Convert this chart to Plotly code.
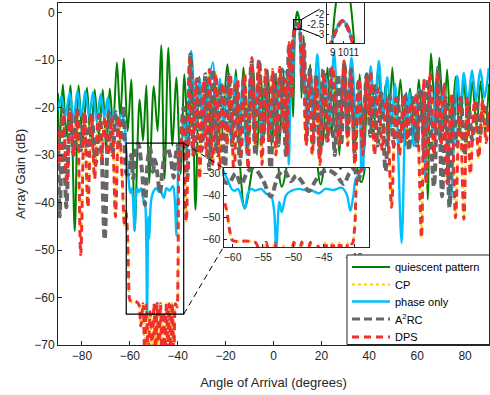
import plotly.graph_objects as go

# ---------------- data (angle in degrees, gain in dB) -------------
green_deg = [-90.0, -89.5, -88.0, -86.4, -84.8, -83.0, -81.4, -79.7, -77.9, -76.3, -74.7, -73.0, -71.3, -69.9,
             -68.4, -67.0, -65.4, -64.0, -62.5, -60.9, -59.4, -58.0, -55.9, -54.5, -53.1, -51.9, -50.0, -48.4,
             -46.9, -45.5, -43.9, -42.2, -40.6, -38.8, -37.2, -35.6, -34.0, -32.6, -30.9, -29.3, -27.6, -26.0,
             -24.3, -22.0, -19.2, -17.5, -15.7, -14.1, -12.5, -10.6, -8.5, -6.9, -5.3, -3.9, -2.4, -0.8, 1.0,
             2.6, 4.2, 5.6, 7.0, 8.2, 8.9, 9.3, 9.9, 10.5, 10.8, 11.15, 11.7, 12.6, 13.7, 15.3, 16.8, 18.9,
             20.6, 22.5, 24.3, 26.0, 27.5, 29.2, 30.9, 32.6, 34.3, 36.0, 37.8, 39.6, 41.7, 43.6, 45.6, 46.8,
             47.9, 49.6, 51.3, 53.0, 55.0, 57.0, 58.9, 60.7, 62.2, 63.2, 64.4, 65.8, 67.6, 69.3, 71.0, 72.5,
             74.2, 76.0, 77.8, 79.5, 81.2, 83.0, 84.8, 86.5, 88.3, 90.0]
green_db = [-17, -30, -15.1, -26, -15.3, -46, -15.3, -27, -15.8, -28, -16.2, -26, -16.2, -29,
            -16.0, -24, -10.5, -22, -9.7, -25, -14.1, -46, -18.3, -27, -15.3, -36, -15.5, -25,
            -6.9, -35, -7.4, -28, -13.7, -34, -13.0, -28, -14.0, -41.5, -13.5, -26, -14.0, -30,
            -13.0, -27, -10.9, -25, -12.0, -30, -11.6, -27, -12.0, -30, -13.0, -26, -12.0, -28, -13.5,
            -27, -12.5, -30, -9.0, -22, -4.0, -1.5, 0.2, -0.8, -2.0, -4.5, -18, -4.9, -20, -11.0, -24, -12.5,
            -28, -11.6, -26, -13.5, -30, -12.0, -25, -14.5, -28, -13.0, -30, -13.5, -26, -12.0, -22, -15.0,
            -29.5, -11.6, -24, -14.1, -28, -16.0, -26, -14.1, -24, -17.0, -39.4, -8.6, -22, -9.5, -25, -12.0,
            -27, -13.5, -26, -14.5, -25, -14.5, -24, -14.5, -25, -15.0]

phase_deg = [-90.0, -88.6, -87.0, -85.1, -83.5, -81.9, -80.2, -78.6, -77.0, -75.4, -73.8, -72.2, -70.7, -69.2,
             -67.8, -66.3, -65.0, -63.8, -62.5, -61.5, -60.8, -60.2, -59.7, -59.1, -58.0, -57.5, -56.9, -56.3,
             -55.3, -54.5, -53.7, -53.2, -52.8, -52.3, -51.9, -51.2, -50.4, -49.1, -47.7, -47.2, -45.8, -44.7,
             -43.4, -42.0, -41.2, -40.6, -40.1, -39.7, -38.5, -37.2, -36.3, -34.4, -32.3, -30.8, -28.9, -27.0,
             -25.3, -24.0, -22.4, -20.8, -19.2, -17.6, -16.0, -14.4, -12.8, -11.2, -9.6, -8.0, -6.4, -4.8,
             -3.2, -1.6, 0.0, 1.6, 3.2, 5.0, 6.4, 7.4, 8.2, 8.9, 9.95, 10.9, 11.8, 12.6, 14.0, 15.5, 16.6,
             18.3, 20.0, 21.6, 23.3, 25.3, 27.3, 28.9, 30.5, 32.6, 34.6, 35.8, 37.0, 38.6, 39.5, 40.6, 42.3,
             44.0, 45.8, 47.5, 49.2, 50.8, 53.5, 55.2, 55.8, 56.7, 58.6, 60.7, 62.2, 63.5, 65.0, 66.5, 68.0,
             69.5, 71.2, 73.9, 76.7, 78.1, 79.5, 81.2, 82.9, 84.6, 86.4, 88.1, 89.9]
phase_db = [-20.6, -17.6, -22, -16.9, -23, -16.5, -22, -16.5, -22, -16.8, -23, -17.2, -22, -17.9,
            -23, -20.5, -24, -21.5, -22.5, -29, -33, -36.9, -38, -37, -46, -39.1, -37, -37.8,
            -37, -39.1, -40, -46, -64, -43, -47.6, -40, -38, -37, -37.8, -37.5, -39, -37,
            -37.5, -36.5, -39.5, -47, -40, -32.5, -28, -22, -30, -8.1, -23.2, -14, -26.7, -15,
            -10.5, -28.8, -14, -24, -15, -27, -13.5, -25, -15, -30, -13, -24, -14.5, -28,
            -13, -25, -14, -28, -12.5, -12.5, -32, -7, -14, -3.4, -2.35, -3.45, -15, -7, -25, -13, -22,
            -8.8, -22, -13, -24, -8.4, -25, -13, -22, -9.5, -24, -16, -40, -14, -20, -11.3, -22,
            -10.2, -22, -13.6, -24, -15, -48.5, -18, -23, -16.8, -28.1, -16.2, -18, -35.2, -15, -25, -14,
            -27, -15, -40.8, -13.3, -20, -12.7, -19, -12.2, -18.5, -12.0, -18, -11.7]

a2rc_deg = [-90.0, -89.3, -88.0, -86.5, -85.0, -83.5, -82.0, -80.5, -79.0, -77.5, -76.0, -74.3, -72.5, -70.5,
            -68.8, -67.2, -65.8, -64.3, -62.5, -61.3, -60.5, -59.5, -58.6, -57.5, -56.5, -55.0, -53.7, -52.5,
            -51.5, -50.4, -49.5, -48.5, -47.4, -46.5, -45.5, -44.3, -43.0, -41.7, -40.8, -40.0, -39.3, -38.5,
            -37.5, -36.0, -34.7, -33.2, -31.6, -30.0, -28.4, -26.8, -25.2, -23.6, -22.0, -20.4, -18.8, -17.2,
            -15.6, -14.0, -12.4, -10.8, -9.2, -7.6, -6.0, -4.4, -2.8, -1.2, 0.4, 2.0, 3.6, 5.2, 6.5, 7.7,
            8.3, 8.9, 9.95, 10.9, 11.5, 12.0, 12.7, 13.8, 15.2, 16.5, 17.8, 19.3, 20.8, 22.4, 24.0, 25.6,
            27.0, 28.3, 29.6, 31.0, 32.4, 34.0, 35.6, 37.3, 38.9, 40.5, 42.0, 43.5, 45.0, 46.8, 48.5, 50.2,
            51.8, 53.4, 55.0, 56.6, 58.2, 59.8, 61.4, 63.0, 64.5, 67.0, 68.8, 70.4, 72.0, 73.5, 75.0, 76.6,
            78.2, 79.8, 81.4, 83.0, 84.6, 86.2, 87.8, 90.0]
a2rc_db = [-24, -42.9, -20.5, -41, -20.5, -30, -20.5, -29, -21, -30, -21, -32, -21.5, -47.8,
           -21, -30, -21, -28, -19.7, -34, -34, -30, -35, -29, -27.5, -33, -40.5, -31,
           -28.5, -33.5, -31, -34, -38, -34, -30, -28.5, -30.5, -34.8, -30, -28, -33, -25,
           -20, -35, -8.8, -30, -14, -29, -13, -33, -12, -30, -15, -35, -13, -28,
           -15, -32, -14, -28, -10.5, -30, -10, -27, -13, -34, -12.5, -28, -12, -30, -7, -18,
           -6, -3.4, -2.35, -3.45, -7, -16, -6.5, -27, -12, -28, -13, -30, -12, -27, -11.5, -30,
           -13, -28, -10.5, -26, -12, -30, -14, -28, -13, -26, -15, -28, -17, -33.4, -17.5, -28,
           -18, -27, -17, -29, -18, -28, -16, -30, -14, -36.6, -11.6, -38.7, -18, -41, -17.5, -28,
           -18, -30, -19, -27, -18.5, -26, -19, -24]

dps_deg = [-90.0, -89.2, -87.8, -86.3, -84.9, -83.4, -82.0, -80.5, -79.0, -77.5, -76.1, -74.7, -73.2, -71.8,
           -70.4, -68.9, -67.5, -66.0, -64.6, -63.2, -62.2, -61.6, -61.0, -60.5, -60.0, -59.0, -58.0, -57.0,
           -56.2, -55.4, -54.5, -53.8, -53.1, -52.3, -51.5, -50.7, -49.9, -49.25, -48.6, -47.9, -47.2, -46.6,
           -45.9, -45.3, -44.7, -44.1, -43.5, -42.9, -42.3, -41.6, -40.9, -40.3, -39.9, -39.3, -38.6, -37.9,
           -36.4, -35.1, -33.7, -32.3, -30.9, -29.3, -28.0, -26.8, -25.4, -24.0, -22.5, -21.0, -19.5, -18.0,
           -16.5, -15.0, -13.5, -12.0, -10.6, -9.0, -7.6, -6.2, -4.8, -3.3, -1.9, -0.4, 1.0, 2.6, 4.2, 5.0,
           5.8, 6.6, 7.4, 8.2, 8.9, 9.95, 10.9, 11.5, 12.0, 12.4, 13.6, 15.0, 16.2, 17.7, 19.4, 21.1, 22.8,
           24.6, 27.4, 29.5, 31.0, 32.2, 34.0, 35.7, 37.3, 38.9, 39.8, 40.6, 42.2, 43.8, 45.4, 47.2, 49.3,
           51.0, 52.6, 54.3, 55.8, 57.2, 58.4, 59.7, 61.8, 62.8, 63.8, 65.4, 67.0, 68.5, 70.0, 71.2, 72.5,
           74.3, 76.0, 77.8, 79.5, 80.9, 82.2, 84.0, 85.7, 87.3, 88.8, 90.0]
dps_db = [-25, -32, -21.5, -36, -20.5, -30, -21, -51, -21, -41, -21.5, -35, -21.5, -31,
          -22, -30, -22, -43, -22, -35, -45, -41.9, -46.5, -55.7, -60.5, -61, -60.8, -61,
          -61.5, -66, -61.3, -72, -61.5, -72, -63, -72, -61.3, -72, -61.2, -72, -61.3, -72,
          -63, -72, -61.2, -72, -61.3, -72, -61.2, -72, -61.3, -62, -55, -30, -28, -22.5,
          -44, -9.9, -30, -14, -35, -14.5, -30, -12, -32, -13, -33, -15, -28, -13,
          -35, -14, -30, -13, -33, -9.5, -28, -10.2, -32, -12, -27, -12, -30, -11.5, -25, -14,
          -30.2, -6.3, -18, -5, -3.4, -2.35, -3.45, -7, -14, -6.7, -28, -13, -30, -14.1, -32, -12.7, -27,
          -11.3, -27.8, -10.2, -28, -13, -32, -14.1, -30, -13.5, -22, -12.3, -30, -16, -29, -18, -41,
          -18, -30, -17.5, -27, -19, -24, -17, -47.4, -14, -36, -12.6, -30, -12.6, -28, -15, -36,
          -17, -43.2, -18, -43.5, -18, -34, -18.5, -30.6, -18.5, -27.4, -20]

# CP coincides with DPS in the picture (yellow dots show through the red dashes)
cp_deg = list(dps_deg)
cp_db = list(dps_db)

x_ticks = [-80, -60, -40, -20, 0, 20, 40, 60, 80]
y_ticks = [0, -10, -20, -30, -40, -50, -60, -70]
inset1_xticks = [-60, -55, -50, -45, -40]
inset1_yticks = [-30, -40, -50, -60]
inset2_xticks = [9, 10, 11]
inset2_yticks = [-1.5, -2, -2.5, -3]

# zoom windows
main_xr = [-90, 90]
main_yr = [-70, 2]
zoom1_x = [-61.5, -37.5]
zoom1_y = [-63.5, -27.5]
zoom2_x = [8.5, 12.0]
zoom2_y = [-3.45, -1.45]

series = [
    ("quiescent pattern", green_deg, green_db, dict(color="#008000", width=2)),
    ("CP", cp_deg, cp_db, dict(color="#FFCC00", width=2.2, dash="dot")),
    ("phase only", phase_deg, phase_db, dict(color="#00BFFF", width=2.4)),
    ("A<sup>2</sup>RC", a2rc_deg, a2rc_db, dict(color="#666666", width=4, dash="8px,4px")),
    ("DPS", dps_deg, dps_db, dict(color="#EE3030", width=3, dash="7px,5px")),
]

fig = go.Figure()
for ax_i in [1, 2, 3]:
    xa = "x" if ax_i == 1 else f"x{ax_i}"
    ya = "y" if ax_i == 1 else f"y{ax_i}"
    for name, xs, ys, ln in series:
        fig.add_trace(go.Scatter(x=xs, y=ys, mode="lines", name=name,
                                 line=dict(shape="spline", smoothing=0.9, **ln),
                                 xaxis=xa, yaxis=ya, showlegend=False, hoverinfo="skip"))

axcol = "#262626"
font = "Liberation Sans, Arial, sans-serif"
common = dict(showline=True, linecolor=axcol, linewidth=1, mirror=True, ticks="inside", ticklen=4,
              tickcolor=axcol, showgrid=False, zeroline=False, automargin=False,
              tickfont=dict(size=12, color=axcol))
small = {**common, "tickfont": dict(size=10.5, color=axcol), "ticklen": 3}
tiny = {**common, "tickfont": dict(size=10, color=axcol), "ticklen": 2}

W, H = 490, 395
ML, MR, MT, MB = 58, 1, 3, 50
PW, PH = W - ML - MR, H - MT - MB


def px_x(v):
    return (v - main_xr[0]) / (main_xr[1] - main_xr[0])


def px_y(v):
    return (v - main_yr[0]) / (main_yr[1] - main_yr[0])


def pp_x(p):  # page pixel -> paper
    return (p - ML) / PW


def pp_y(p):
    return (H - MB - p) / PH


in1_dom_x = [0.384, 0.722]
in1_dom_y = [0.2865, 0.5175]
in2_dom_x = [0.625, 0.711]
in2_dom_y = [0.883, 1.0]

annotations = [dict(text="Array Gain (dB)", xref="paper", yref="paper", x=-0.088, y=0.5,
                    xanchor="center", yanchor="middle", textangle=-90, showarrow=False,
                    font=dict(size=13, color=axcol))]

shapes = []
shapes.append(dict(type="rect", xref="x", yref="y", x0=zoom1_x[0], x1=zoom1_x[1], y0=zoom1_y[0], y1=zoom1_y[1],
                   line=dict(color="black", width=1.2), layer="above"))
shapes.append(dict(type="line", xref="paper", yref="paper", x0=px_x(zoom1_x[1]), y0=px_y(zoom1_y[1]),
                   x1=in1_dom_x[0], y1=in1_dom_y[1], line=dict(color="black", width=1, dash="6px,4px")))
shapes.append(dict(type="line", xref="paper", yref="paper", x0=px_x(zoom1_x[1]), y0=px_y(zoom1_y[0]),
                   x1=in1_dom_x[0], y1=in1_dom_y[0], line=dict(color="black", width=1, dash="6px,4px")))
shapes.append(dict(type="rect", xref="x", yref="y", x0=8.4, x1=11.6, y0=-3.5, y1=-1.5,
                   line=dict(color="black", width=1.2), layer="above"))
shapes.append(dict(type="line", xref="paper", yref="paper", x0=px_x(11.6), y0=px_y(-1.5),
                   x1=0.607, y1=0.982, line=dict(color="black", width=1)))
shapes.append(dict(type="line", xref="paper", yref="paper", x0=px_x(11.6), y0=px_y(-3.5),
                   x1=0.607, y1=0.903, line=dict(color="black", width=1)))

# legend box (MATLAB style, compact rows)
shapes.append(dict(type="rect", xref="paper", yref="paper", x0=pp_x(347), x1=pp_x(489.5), y0=pp_y(344.5),
                   y1=pp_y(255), fillcolor="white", line=dict(color=axcol, width=1), layer="above"))
row_y = [267, 284.5, 301.5, 319, 337]
for (name, _, _, ln), ry in zip(series, row_y):
    lnd = dict(color=ln["color"], width=min(ln["width"], 3.2))
    if "dash" in ln:
        lnd["dash"] = ln["dash"]
    shapes.append(dict(type="line", xref="paper", yref="paper", x0=pp_x(352), x1=pp_x(390),
                       y0=pp_y(ry), y1=pp_y(ry), line=lnd, layer="above"))
    annotations.append(dict(text=name, xref="paper", yref="paper", x=pp_x(393), y=pp_y(ry),
                            xanchor="left", yanchor="middle", showarrow=False,
                            font=dict(size=11, color="#000000")))

fig.update_layout(
    width=W, height=H,
    margin=dict(l=ML, r=MR, t=MT, b=MB),
    paper_bgcolor="white", plot_bgcolor="white",
    font=dict(family=font, color=axcol),
    xaxis=dict(range=main_xr, tickvals=x_ticks, domain=[0, 1],
               title=dict(text="Angle of Arrival (degrees)", font=dict(size=13)), **common),
    yaxis=dict(range=main_yr, tickvals=y_ticks, domain=[0, 1], **common),
    xaxis2=dict(range=zoom1_x, tickvals=inset1_xticks, domain=in1_dom_x, anchor="y2", **small),
    yaxis2=dict(range=zoom1_y, tickvals=inset1_yticks, domain=in1_dom_y, anchor="x2", **small),
    xaxis3=dict(range=zoom2_x, tickvals=inset2_xticks, domain=in2_dom_x, anchor="y3", tickangle=0, **tiny),
    yaxis3=dict(range=zoom2_y, tickvals=inset2_yticks, ticktext=["-1.5", "-2", "-2.5", "-3"],
                domain=in2_dom_y, anchor="x3", **tiny),
    showlegend=False,
    annotations=annotations,
    shapes=shapes,
)

fig.write_html("out.html", config={"displayModeBar": False},
               post_script="document.body.style.margin='0';")
